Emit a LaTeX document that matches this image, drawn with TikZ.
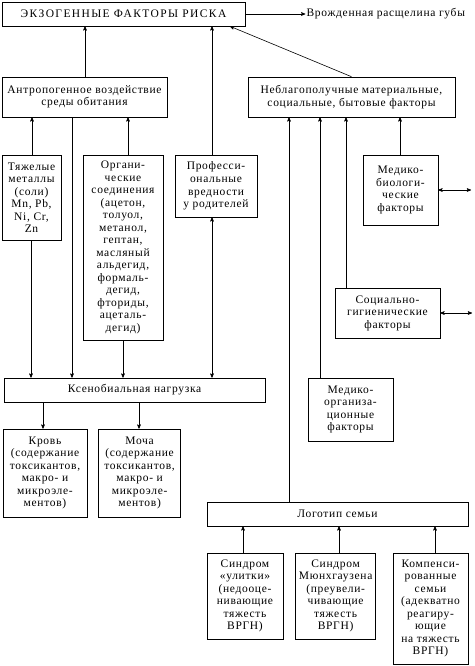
\documentclass[tikz,border=0pt]{standalone}
\usepackage{fontspec}
\setmainfont{Liberation Serif}[LetterSpace=6]
\usetikzlibrary{arrows,positioning}

\begin{document}
\begin{tikzpicture}[x=1pt,y=-1pt,>=stealth',line width=0.6pt,
                    font=\fontsize{11.5}{12.5}\selectfont,
                    factor/.style 2 args={draw,align=center,inner sep=1pt,
                                          minimum width=#1pt,minimum height=#2pt}]

                \useasboundingbox (0,0) rectangle (474,666);

                \node[factor={243}{24}] (exo) at (123.5,14) {\addfontfeatures{LetterSpace=12}ЭКЗОГЕННЫЕ ФАКТОРЫ РИСКА};

                \node[inner sep=1pt] (cleft) [right=60pt of exo] {Врожденная расщелина губы};

                \node[factor={165}{40}] (anthro) at (84.5,97) {Антропогенное воздействие\\среды обитания};

                \node[factor={207}{40}] (social) at (351.5,97) {Неблагополучные материальные,\\социальные, бытовые факторы};

                \node[factor={59}{85}] (metals) at (31.5,197.5) {Тяжелые\\металлы\\(соли)\\Mn, Pb,\\Ni, Cr,\\Zn};

                \node[factor={80}{185}] (organic) at (123,247.5) {Органи-\\ческие\\соединения\\(ацетон,\\толуол,\\метанол,\\гептан,\\масляный\\альдегид,\\формаль-\\дегид,\\фториды,\\ацеталь-\\дегид)};

                \node[factor={82}{62}] (parents) at (216,186) {Професси-\\ональные\\вредности\\у родителей};

                \node[factor={75}{70}] (medbio) at (400.5,190) {Медико-\\биологи-\\ческие\\факторы};

                \node[factor={105}{50}] (hygiene) at (387.5,313) {Социально-\\гигиенические\\факторы};

                \node[factor={261}{24}] (xeno) at (134.5,390) {Ксенобиальная нагрузка};

                \node[factor={85}{63}] (medorg) at (350.5,409.5) {Медико-\\организа-\\ционные\\факторы};

                \node[factor={84}{88}] (blood) at (45,473) {Кровь\\(содержание\\токсикантов,\\макро- и\\микроэле-\\ментов)};

                \node[factor={82}{88}] (urine) [right=11pt of blood] {Моча\\(содержание\\токсикантов,\\макро- и\\микроэле-\\ментов)};

                \node[factor={261}{24}] (logo) at (337.5,514) {Логотип семьи};

                \node[factor={76}{86}] (snail) at (245,596) {Синдром\\«улитки»\\(недооце-\\нивающие\\тяжесть\\ВРГН)};

                \node[factor={80}{86}] (munch) [right=12pt of snail] {Синдром\\Мюнхгаузена\\(преувели-\\чивающие\\тяжесть\\ВРГН)};

                \node[factor={75}{111}] (comp) at (430.5,608.5) {Компенси-\\рованные\\семьи\\(адекватно\\реагиру-\\ющие\\на тяжесть\\ВРГН)};

                \coordinate (bioend) at (471,190);

                \coordinate (hygend) at (472,313);

                \draw[->] (exo) -- (cleft);

                \draw[->] (social.north) -- (230,0 |- exo.south);

                \foreach \x/\from/\to in {85/anthro/exo, 212/parents/exo, 32/metals/anthro, 128/organic/anthro,
                                         289/logo/social, 320/medorg/social, 346/hygiene/social, 400/medbio/social,
                                         243/snail/logo, 339/munch/logo, 435/comp/logo} {

                    \draw[->] (\x,0 |- \from.north) -- (\x,0 |- \to.south);
                }

                \foreach \x/\from/\to in {72/anthro/xeno, 31/metals/xeno, 123/organic/xeno, 43/xeno/blood, 139/xeno/urine} {

                    \draw[->] (\x,0 |- \from.south) -- (\x,0 |- \to.north);
                }

                \draw[<->] (212,0 |- parents.south) -- (212,0 |- xeno.north);

                \draw[<->] (medbio) -- (bioend);

                \draw[<->] (hygiene) -- (hygend);

            \end{tikzpicture}
\end{document}
